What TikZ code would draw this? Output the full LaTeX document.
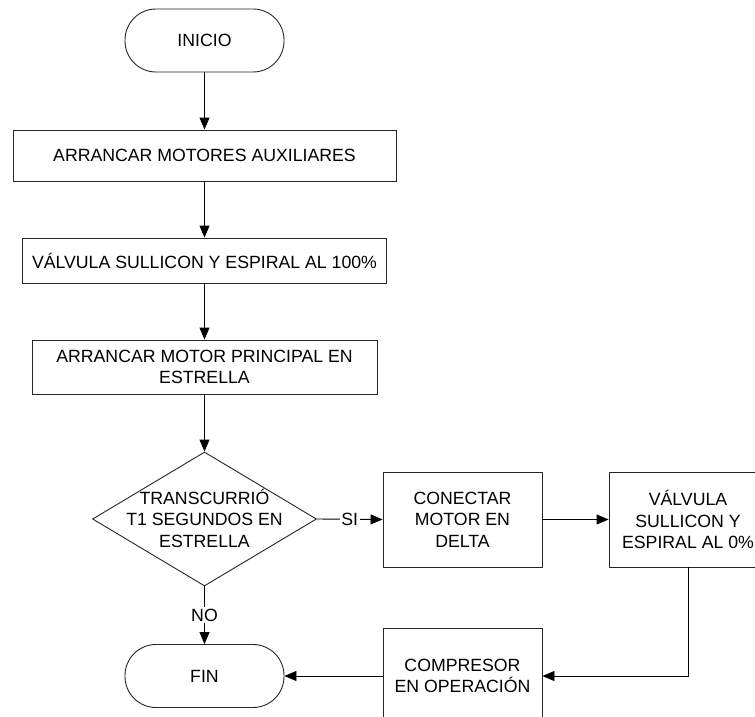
\documentclass[tikz,border=0pt]{standalone}
\usepackage{fontspec}
\setmainfont{Liberation Sans}
\usetikzlibrary{arrows.meta,shapes.geometric}

\tikzset{
  txt/.style={font=\fontsize{17.7}{21.5}\selectfont, align=center},
  stepbox/.style={draw=black!85, line width=0.9pt, rectangle, inner sep=0pt, txt},
  term/.style={draw=black!85, line width=0.9pt, rectangle, rounded corners=31pt,
               minimum width=159pt, minimum height=63pt, inner sep=0pt, txt},
  decision/.style={draw=black!85, line width=0.9pt, diamond, inner sep=0pt,
                   minimum width=224pt, minimum height=134pt},
  arr/.style={draw=black, line width=0.9pt, -{Triangle[length=12pt,width=10pt]}},
  tag/.style={fill=white, inner sep=1.5pt, txt}
}

\begin{document}
\begin{tikzpicture}[x=1pt, y=-1pt]
  \useasboundingbox (0,0) rectangle (755,717);
  \clip (0,0) rectangle (755,717);

  % main column
  \node[term] (ini) at (204.5,40.5) {INICIO};
  \node[stepbox, minimum width=383pt, minimum height=51pt] (b1) at (204.5,155.5)
    {ARRANCAR MOTORES AUXILIARES};
  \node[stepbox, minimum width=364pt, minimum height=45pt] (b2) at (204.5,260.5)
    {VÁLVULA SULLICON Y ESPIRAL AL 100\%};
  \node[stepbox, minimum width=345pt, minimum height=54pt] (b3) at (204.5,367)
    {ARRANCAR MOTOR PRINCIPAL EN\\ESTRELLA};
  \node[decision] (dec) at (204.5,519) {};
  \node[txt, inner sep=0pt] (dectxt) at (204.5,518)
    {TRANSCURRIÓ\\T1 SEGUNDOS EN\\ESTRELLA};
  \node[term] (fin) at (204.5,676) {FIN};

  % right branch
  \node[stepbox, minimum width=159pt, minimum height=95pt] (con) at (462.5,519.5)
    {CONECTAR\\MOTOR EN\\DELTA};
  \node[stepbox, minimum width=158pt, minimum height=95pt] (val) at (688,519.5)
    {VÁLVULA\\SULLICON Y\\ESPIRAL AL 0\%};
  \node[stepbox, minimum width=159pt, minimum height=96pt] (comp) at (462.5,676)
    {COMPRESOR\\EN OPERACIÓN};

  % connectors
  \draw[arr] (ini) -- (b1);
  \draw[arr] (b1) -- (b2);
  \draw[arr] (b2) -- (b3);
  \draw[arr] (b3) -- (dec);
  \draw[arr] (dec.east) -- node[tag] (si) {SI} (con.west);
  \draw[arr] (dec.south) -- node[tag] (no) {NO} (fin.north);
  \draw[arr] (con) -- (val);
  \draw[arr] (val.south) |- (comp.east);
  \draw[arr] (comp.west) -- (fin.east);
\end{tikzpicture}
\end{document}
